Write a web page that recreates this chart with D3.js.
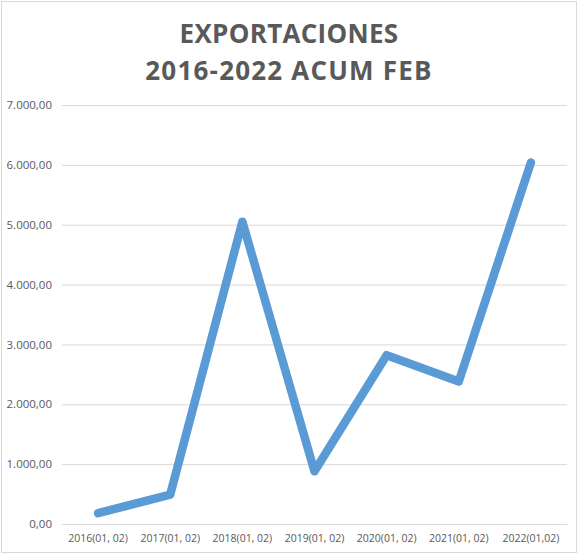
<!DOCTYPE html>
<html>
<head>
<meta charset="utf-8">
<script src="https://cdn.jsdelivr.net/npm/d3@7"></script>
<style>
  body { margin: 0; background: #fff; }
  text { font-family: "Open Sans", sans-serif; fill: #595959; }
</style>
</head>
<body>
<svg width="582" height="555"></svg>
<script>
var titleLines = ["EXPORTACIONES", "2016-2022 ACUM FEB"];
var years = ["2016(01, 02)", "2017(01, 02)", "2018(01, 02)", "2019(01, 02)",
             "2020(01, 02)", "2021(01, 02)", "2022(01,02)"];
var exports = [180, 490, 5050, 880, 2820, 2380, 6040];
var yTicks = [0, 1000, 2000, 3000, 4000, 5000, 6000, 7000];

var svg = d3.select("svg"),
    width = +svg.attr("width"),
    height = +svg.attr("height");

var margin = { top: 105, right: 15, bottom: 31, left: 62 };

// chart frame
svg.append("rect")
    .attr("x", 1.5).attr("y", 1.5)
    .attr("width", 575).attr("height", 551)
    .attr("fill", "#fff")
    .attr("stroke", "#d9d9d9");

var x = d3.scaleBand()
    .domain(years)
    .range([margin.left, width - margin.right]);

var y = d3.scaleLinear()
    .domain([0, 7000])
    .range([height - margin.bottom, margin.top]);

var fmt = function(v) {
  return d3.format(",.2f")(v).replace(/,/g, "X").replace(/\./g, ",").replace(/X/g, ".");
};

// gridlines + y labels
var yAxis = svg.append("g")
    .attr("transform", "translate(" + margin.left + ",0)")
    .call(d3.axisLeft(y).tickValues(yTicks).tickFormat(fmt)
      .tickSize(-(width - margin.left - margin.right)).tickPadding(10));
yAxis.select(".domain").remove();
yAxis.selectAll("line").attr("stroke", "#d9d9d9");
yAxis.selectAll("text").attr("font-size", 11.5).attr("fill", "#595959")
    .style("font-family", "'Open Sans', sans-serif");

// x labels
var xAxis = svg.append("g")
    .attr("transform", "translate(0," + (height - margin.bottom) + ")")
    .call(d3.axisBottom(x).tickSize(0).tickPadding(11));
xAxis.select(".domain").attr("stroke", "#d9d9d9");
xAxis.selectAll("text").attr("font-size", 10.5).attr("fill", "#595959")
    .style("font-family", "'Open Sans', sans-serif");

// line
var line = d3.line()
    .x(function(d, i) { return x(years[i]) + x.bandwidth() / 2; })
    .y(function(d) { return y(d); });

svg.append("path")
    .datum(exports)
    .attr("d", line)
    .attr("fill", "none")
    .attr("stroke", "#5b9bd5")
    .attr("stroke-width", 8.5)
    .attr("stroke-linejoin", "round")
    .attr("stroke-linecap", "round");

// title
svg.append("g").selectAll("text")
    .data(titleLines)
    .enter()
    .append("text")
    .attr("x", width / 2 - 2)
    .attr("y", function(d, i) { return 43 + i * 37; })
    .attr("text-anchor", "middle")
    .attr("font-size", 26)
    .attr("font-weight", "bold")
    .attr("letter-spacing", function(d, i) { return i ? 1.2 : 0.3; })
    .text(function(d) { return d; });
</script>
</body>
</html>
